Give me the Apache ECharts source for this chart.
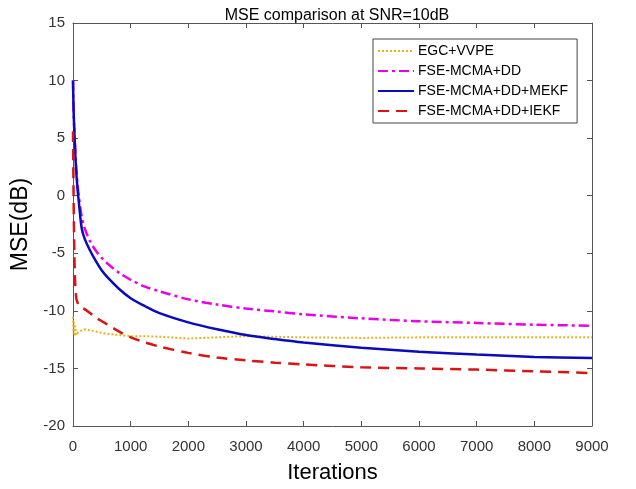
<!DOCTYPE html>
<html>
<head>
<meta charset="utf-8">
<script src="https://cdn.jsdelivr.net/npm/echarts@6/dist/echarts.min.js"></script>
<style>
  html, body { margin: 0; padding: 0; background: #fff; }
  #chart { width: 636px; height: 489px; }
</style>
</head>
<body>
<div id="chart"></div>
<script>
// iteration samples (denser at the start where curves drop fast)
var iters = [0, 10, 20, 30, 40, 50, 60, 80, 100, 150, 200, 300, 400, 500, 600, 800,
    1000, 1250, 1500, 2000, 2500, 3000, 3500, 4000, 5000, 6000, 7000, 8000, 9000]

var egcVvpe = [-10.5, -12.0, -11.0, -12.2, -11.3, -11.8, -12.1, -11.9, -12.0, -11.7, -11.6, -11.7, -11.8, -11.9, -12.0, -12.1,
    -12.2, -12.2, -12.25, -12.4, -12.3, -12.2, -12.25, -12.3, -12.35, -12.3, -12.3, -12.3, -12.3]
var fseDd = [10, 7.5, 6.0, 4.9, 3.8, 2.9, 2.1, 0.9, 0, -1.8, -2.8, -4.0, -4.8, -5.4, -5.9, -6.7,
    -7.3, -7.9, -8.3, -9.0, -9.45, -9.8, -10.05, -10.3, -10.65, -10.9, -11.05, -11.2, -11.3]
var fseMekf = [10, 7.5, 6.0, 4.8, 3.6, 2.6, 1.8, 0.5, -0.5, -2.8, -3.7, -4.8, -5.7, -6.5, -7.1, -8.1,
    -8.9, -9.6, -10.2, -11.0, -11.6, -12.1, -12.45, -12.75, -13.2, -13.55, -13.8, -14.0, -14.1]
var fseIekf = [5.6, 0, -4.0, -6.5, -7.8, -8.5, -9.0, -9.3, -9.5, -9.7, -9.85, -10.2, -10.6, -10.9, -11.2, -11.8,
    -12.3, -12.75, -13.1, -13.65, -14.05, -14.3, -14.5, -14.65, -14.9, -15.0, -15.1, -15.25, -15.4]

var seriesNames = ['EGC+VVPE', 'FSE-MCMA+DD', 'FSE-MCMA+DD+MEKF', 'FSE-MCMA+DD+IEKF']

function pairs(ys) {
    return iters.map(function (x, i) { return [x, ys[i]] })
}

var font = 'Liberation Sans, Arial, sans-serif'
var chart = echarts.init(document.getElementById('chart'), null, {renderer: 'canvas'})

var boxAxis = {
    axisLine: {show: true, onZero: false, lineStyle: {color: '#555', width: 1}},
    axisTick: {show: true, inside: true, length: 5, lineStyle: {color: '#555'}},
    splitLine: {show: false}
}

var option = {
    animation: false,
    backgroundColor: '#fff',
    textStyle: {fontFamily: font},
    title: {
        text: 'MSE comparison at SNR=10dB',
        left: 332, top: 3, textAlign: 'center',
        textStyle: {fontSize: 16, fontWeight: 'normal', color: '#000', fontFamily: font}
    },
    grid: {left: 73, right: 44, top: 23, bottom: 56},
    legend: {
        orient: 'vertical',
        left: 373, top: 39,
        padding: [5, 9, 5, 4],
        itemGap: 6,
        itemWidth: 36, itemHeight: 14,
        backgroundColor: '#fff',
        borderColor: '#444', borderWidth: 1,
        itemStyle: {opacity: 0},
        textStyle: {fontSize: 14, color: '#000', fontFamily: font, padding: [0, 0, 0, -1]},
        data: seriesNames
    },
    xAxis: [Object.assign({
        type: 'value', min: 0, max: 9000, interval: 1000,
        name: 'Iterations', nameLocation: 'middle', nameGap: 36,
        nameTextStyle: {fontSize: 22, color: '#000', fontFamily: font},
        axisLabel: {fontSize: 15, color: '#333', margin: 13, fontFamily: font,
            formatter: function (v) { return String(v) }}
    }, boxAxis), Object.assign({
        type: 'value', min: 0, max: 9000, interval: 1000, position: 'top',
        axisLabel: {show: false}
    }, boxAxis)],
    yAxis: [Object.assign({
        type: 'value', min: -20, max: 15, interval: 5,
        name: 'MSE(dB)', nameLocation: 'middle', nameGap: 31,
        nameTextStyle: {fontSize: 23, color: '#000', fontFamily: font},
        axisLabel: {fontSize: 15, color: '#333', margin: 8, fontFamily: font}
    }, boxAxis), Object.assign({
        type: 'value', min: -20, max: 15, interval: 5, position: 'right',
        axisLabel: {show: false}
    }, boxAxis)],
    series: [{
        name: seriesNames[0], type: 'line', symbol: 'none',
        data: pairs(egcVvpe),
        color: '#E8B21E',
        lineStyle: {color: '#E8B21E', width: 2, type: [2, 2]}
    }, {
        name: seriesNames[1], type: 'line', symbol: 'none', smooth: 0.3,
        data: pairs(fseDd),
        color: '#E800E8',
        lineStyle: {color: '#E800E8', width: 2.5, type: [10, 4, 3, 4]}
    }, {
        name: seriesNames[2], type: 'line', symbol: 'none', smooth: 0.3,
        data: pairs(fseMekf),
        color: '#0A0ABE',
        lineStyle: {color: '#0A0ABE', width: 2.5}
    }, {
        name: seriesNames[3], type: 'line', symbol: 'none', smooth: 0.3,
        data: pairs(fseIekf),
        color: '#D81414',
        lineStyle: {color: '#D81414', width: 2.5, type: [11, 7]}
    }]
}

chart.setOption(option)
</script>
</body>
</html>
